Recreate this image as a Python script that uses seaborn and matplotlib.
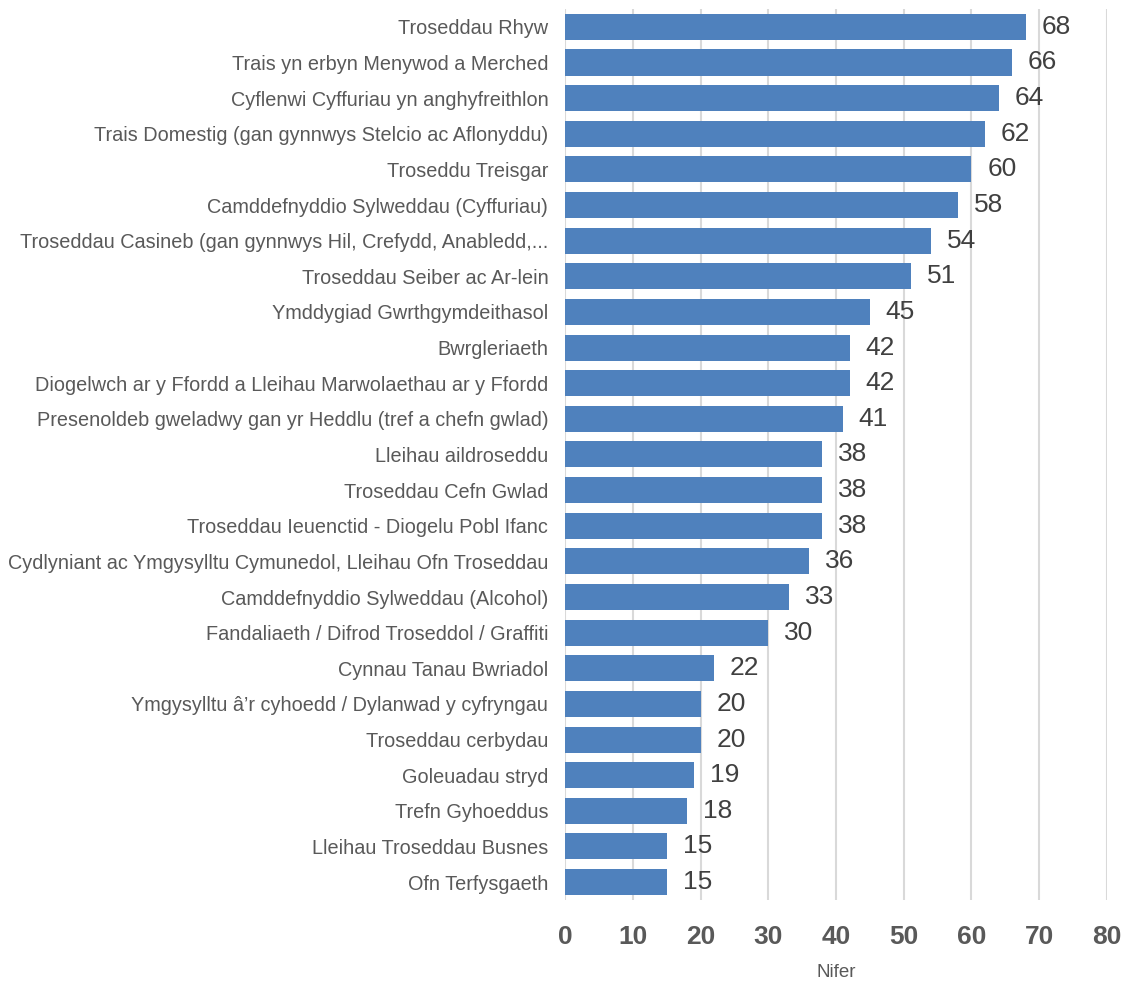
import matplotlib
matplotlib.use("Agg")
import matplotlib.pyplot as plt
import seaborn as sns
import pandas as pd

categories = [
    "Troseddau Rhyw",
    "Trais yn erbyn Menywod a Merched",
    "Cyflenwi Cyffuriau yn anghyfreithlon",
    "Trais Domestig (gan gynnwys Stelcio ac Aflonyddu)",
    "Troseddu Treisgar",
    "Camddefnyddio Sylweddau (Cyffuriau)",
    "Troseddau Casineb (gan gynnwys Hil, Crefydd, Anabledd,...",
    "Troseddau Seiber ac Ar-lein",
    "Ymddygiad Gwrthgymdeithasol",
    "Bwrgleriaeth",
    "Diogelwch ar y Ffordd a Lleihau Marwolaethau ar y Ffordd",
    "Presenoldeb gweladwy gan yr Heddlu (tref a chefn gwlad)",
    "Lleihau aildroseddu",
    "Troseddau Cefn Gwlad",
    "Troseddau Ieuenctid - Diogelu Pobl Ifanc",
    "Cydlyniant ac Ymgysylltu Cymunedol, Lleihau Ofn Troseddau",
    "Camddefnyddio Sylweddau (Alcohol)",
    "Fandaliaeth / Difrod Troseddol / Graffiti",
    "Cynnau Tanau Bwriadol",
    "Ymgysylltu â’r cyhoedd / Dylanwad y cyfryngau",
    "Troseddau cerbydau",
    "Goleuadau stryd",
    "Trefn Gyhoeddus",
    "Lleihau Troseddau Busnes",
    "Ofn Terfysgaeth",
]
counts = [68, 66, 64, 62, 60, 58, 54, 51, 45, 42, 42, 41, 38, 38, 38,
          36, 33, 30, 22, 20, 20, 19, 18, 15, 15]
x_ticks = [0, 10, 20, 30, 40, 50, 60, 70, 80]

df = pd.DataFrame({"category": categories, "count": counts})

sns.set_style("white")
plt.rcParams["font.family"] = ["Liberation Sans", "DejaVu Sans"]

fig = plt.figure(figsize=(11.26, 9.83), dpi=100)
ax = fig.add_axes([0.5018, 0.0845, 0.4813, 0.9063])

sns.barplot(data=df, x="count", y="category", color="#4F81BD",
            saturation=1, width=0.73, linewidth=0, ax=ax)

# value labels next to each bar
for i, v in enumerate(counts):
    ax.annotate(str(v), xy=(v, i), xytext=(11.5, 0), textcoords="offset points",
                va="center", ha="left", fontsize=19, color="#404040")

ax.set_xlim(0, 80)
ax.set_ylim(len(categories) - 0.5, -0.5)
ax.set_xticks(x_ticks)
ax.set_xticklabels([str(t) for t in x_ticks], fontsize=19, fontweight="bold",
                   color="#595959")
ax.tick_params(axis="x", length=0, pad=18)
ax.tick_params(axis="y", length=0, pad=12, labelsize=14.3, labelcolor="#595959")
ax.set_ylabel("")
ax.set_xlabel("Nifer", fontsize=13.5, color="#595959", labelpad=11)

ax.xaxis.grid(True, color="#D9D9D9", linewidth=1.5)
ax.set_axisbelow(True)
for s in ax.spines.values():
    s.set_visible(False)

fig.savefig("out.png", dpi=100)
